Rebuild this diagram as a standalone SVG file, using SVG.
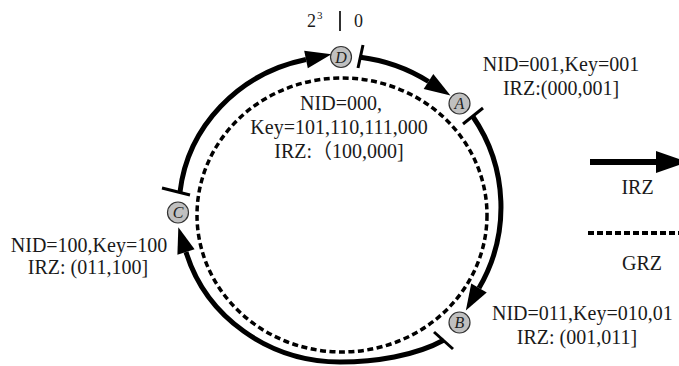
<svg xmlns="http://www.w3.org/2000/svg" width="679" height="366" viewBox="0 0 679 366">
<style>
.t{font-family:"Liberation Serif","Noto Sans CJK SC",serif;font-size:20px;fill:#1a1a1a}
.n{fill:#c0c0c0;stroke:#333;stroke-width:1.2}
.nl{font-family:"Liberation Serif",serif;font-style:italic;font-size:16px;fill:#222;text-anchor:middle}
.arc{fill:none;stroke:#000;stroke-width:5}
.tick{stroke:#000;stroke-width:3;stroke-linecap:butt}
.dash{fill:none;stroke:#000;stroke-width:3.5;stroke-dasharray:6 3.5}
</style>
<defs>
<marker id="ah" markerUnits="userSpaceOnUse" markerWidth="26" markerHeight="18" refX="0" refY="9" orient="auto" viewBox="0 0 26 18" overflow="visible">
<path d="M0,0 L26,9 L0,18 z" fill="#000"/>
</marker>
</defs>
<rect width="679" height="366" fill="#fff"/>
<g id="connectors">
<ellipse class="dash" cx="342" cy="215" rx="145" ry="137"/>
<path class="arc" d="M360.5,57.2 A161,153 0 0 1 428.5,81.5" marker-end="url(#ah)"/>
<path class="arc" d="M472.5,116 A160,160 0 0 1 479,288" marker-end="url(#ah)"/>
<path class="arc" d="M444,340 C415,356 375,362 340,362 A161,153 0 0 1 186,252" marker-end="url(#ah)"/>
<path class="arc" d="M180,192 A161,153 0 0 1 306,59.5" marker-end="url(#ah)"/>
<line class="tick" x1="358" y1="68" x2="363" y2="45"/>
<line class="tick" x1="463" y1="124" x2="483" y2="108"/>
<line class="tick" x1="434" y1="332" x2="453" y2="349"/>
<line class="tick" x1="162" y1="188" x2="190" y2="195"/>
</g>
<g id="top-label">
<text class="t" x="307" y="27" style="font-size:18px">2</text>
<text class="t" x="317" y="19" style="font-size:11px">3</text>
<line x1="340" y1="11" x2="340" y2="31" stroke="#1a1a1a" stroke-width="1.8"/>
<text class="t" x="354" y="27" style="font-size:18px">0</text>
</g>
<g id="node-D">
<circle class="n" cx="341" cy="57" r="10.5"/>
<text class="nl" x="341" y="62.5">D</text>
<text class="t" x="341" y="110" text-anchor="middle">NID=000,</text>
<text class="t" x="339" y="134" text-anchor="middle">Key=101,110,111,000</text>
<text class="t" x="339" y="158" text-anchor="middle">IRZ:（100,000]</text>
</g>
<g id="node-A">
<circle class="n" cx="459.5" cy="103.5" r="10.5"/>
<text class="nl" x="459.5" y="109">A</text>
<text class="t" x="561" y="71" text-anchor="middle">NID=001,Key=001</text>
<text class="t" x="561" y="95" text-anchor="middle">IRZ:(000,001]</text>
</g>
<g id="node-B">
<circle class="n" cx="459.5" cy="322.5" r="10.5"/>
<text class="nl" x="459.5" y="328">B</text>
<text class="t" x="492" y="320">NID=011,Key=010,01</text>
<text class="t" x="577" y="344" text-anchor="middle">IRZ: (001,011]</text>
</g>
<g id="node-C">
<circle class="n" cx="178" cy="212.5" r="10.5"/>
<text class="nl" x="178" y="218">C</text>
<text class="t" x="89" y="252" text-anchor="middle">NID=100,Key=100</text>
<text class="t" x="88" y="274" text-anchor="middle">IRZ: (011,100]</text>
</g>
<g id="legend">
<line x1="590" y1="162" x2="660" y2="162" stroke="#000" stroke-width="6"/>
<polygon points="656,151 656,173 688,162" fill="#000"/>
<text class="t" x="637.5" y="194" text-anchor="middle">IRZ</text>
<line x1="588" y1="233" x2="679" y2="233" stroke="#000" stroke-width="4" stroke-dasharray="6 3"/>
<text class="t" x="642" y="270" text-anchor="middle">GRZ</text>
</g>
</svg>
